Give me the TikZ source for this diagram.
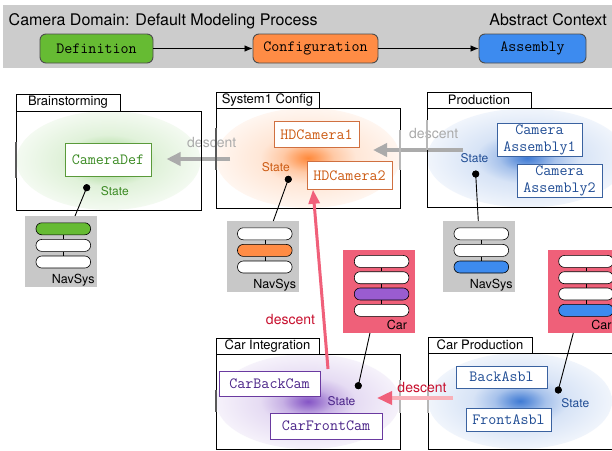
\documentclass[tikz,border=0pt]{standalone}
\usepackage{fontspec}
\setmainfont{TeX Gyre Heros}
\usetikzlibrary{arrows.meta,calc}

% palette
\definecolor{bandgray}{HTML}{CCCCCC}
\definecolor{defgreen}{HTML}{66BB33}
\definecolor{cfgorange}{HTML}{FF8C45}
\definecolor{asmblue}{HTML}{3D8BEF}
\definecolor{carred}{HTML}{EF6079}
\definecolor{carpurple}{HTML}{9A5CD0}
\definecolor{txtgreen}{HTML}{3A8A22}
\definecolor{txtorange}{HTML}{CC5A12}
\definecolor{txtblue}{HTML}{1F4C94}
\definecolor{txtpurple}{HTML}{4A2388}
\definecolor{bordgreen}{HTML}{5A9A3A}
\definecolor{bordorange}{HTML}{D07040}
\definecolor{bordblue}{HTML}{3A62A0}
\definecolor{bordpurple}{HTML}{6A3AA0}
\definecolor{arrowgray}{HTML}{ABABAB}
\definecolor{pinkline}{HTML}{F0607A}
\definecolor{pinklight}{HTML}{F8B0B8}
\definecolor{crimson}{HTML}{C8102E}
\definecolor{navgray}{HTML}{C8C8C8}
\definecolor{glowgreen}{HTML}{5CB83A}
\definecolor{gloworange}{HTML}{FF7F2A}
\definecolor{glowblue}{HTML}{2F6FD0}
\definecolor{glowpurple}{HTML}{7A45C0}

% soft elliptical haze behind the elements of a panel
\colorlet{glowc}{gray}
\pgfdeclareradialshading[glowc]{glow}{\pgfpoint{0bp}{0bp}}{%
  color(0bp)=(glowc!92!white);
  color(2.5bp)=(glowc!75!white);
  color(7bp)=(glowc!42!white);
  color(13bp)=(glowc!19!white);
  color(25bp)=(glowc!7!white);
  color(50bp)=(white)}

\newcommand{\panelglow}[6]{%
  \begin{scope}
    \colorlet{glowc}{#1}%
    \clip (#2.south west) rectangle (#2.north east);
    \shade[shading=glow] (#3,#4) ellipse [x radius=#5pt, y radius=#6pt];
  \end{scope}}

% column of pills inside a holder: name, left x, top y, pitch, first centre offset, fills
\newcommand{\pillstack}[6]{%
  \foreach \c [count=\i] in {#6} {
    \node[pill=\c] (#1-\i) at ({#2+38.3},{#3+#5+(\i-1)*#4}) {};
  }}

\tikzset{
  phasebox/.style={draw=black!70, line width=0.9pt, rounded corners=6pt,
    minimum height=29pt, inner sep=0pt, font=\ttfamily\fontsize{15.6}{18}\selectfont},
  flow/.style={line width=0.8pt, -{Latex[length=8pt,width=6.5pt]}},
  panelbg/.style={fill=white, anchor=north west, inner sep=0pt, outer sep=0pt},
  panelframe/.style={draw=black, line width=0.8pt},
  paneltab/.style={draw=black, fill=white, line width=0.8pt, anchor=north west,
    inner sep=0pt, outer sep=0pt, font=\fontsize{13}{15}\selectfont},
  edgemark/.style={line width=2pt, draw=black!65},
  edgefaint/.style={line width=1.6pt, draw=black!28},
  elembox/.style={draw=#1, fill=white, line width=1pt, inner sep=0pt,
    font=\ttfamily\fontsize{15.6}{17}\selectfont, align=center},
  statelbl/.style={font=\fontsize{12}{14}\selectfont, inner sep=0pt},
  statedot/.style={circle, fill=black, minimum size=7pt, inner sep=0pt},
  holder/.style={anchor=north west, minimum width=72pt, inner sep=0pt, outer sep=0pt},
  pill/.style={draw=black, line width=0.6pt, rounded corners=5.8pt,
    minimum width=54.6pt, minimum height=12pt, inner sep=0pt, fill=#1},
  pill/.default=white,
  rung/.style={line width=0.6pt, draw=black},
  holderlbl/.style={font=\fontsize{12.5}{14}\selectfont, anchor=base east, inner sep=0pt},
  wire/.style={line width=0.9pt, draw=black},
  descentgray/.style={line width=3.5pt, draw=arrowgray, -{Triangle[length=14pt,width=13pt]}},
  descentpink/.style={line width=3pt, draw=pinkline, -{Triangle[length=14pt,width=11pt]}},
  descentsoft/.style={line width=3.5pt, draw=pinklight, -{Triangle[length=15pt,width=13pt,color=pinkline]}},
  descentlbl/.style={font=\fontsize{14}{16}\selectfont, inner sep=0pt},
}

\begin{document}
\begin{tikzpicture}[x=1pt,y=-1pt]
\useasboundingbox (0,0) rectangle (612,450);
\fill[white] (0,0) rectangle (612,450);
\begin{scope}
\clip (0,0) rectangle (612,450);

% ---------- header: the default modeling process ----------
\fill[bandgray] (3,5) rectangle (615,68);
\node[anchor=base west, inner sep=0pt, font=\fontsize{16}{19}\selectfont] (title) at (8.5,25.5)
  {Camera Domain: Default Modeling Process};
\node[anchor=base east, inner sep=0pt, font=\fontsize{16}{19}\selectfont] (ctx) at (607,25.5)
  {Abstract Context};
\node[phasebox, fill=defgreen, minimum width=113pt] (def) at (96.5,48.5) {Definition};
\node[phasebox, fill=cfgorange, minimum width=125pt] (cfg) at (315.5,48.5) {Configuration};
\node[phasebox, fill=asmblue, minimum width=107pt] (asm) at (532.5,48.5) {Assembly};
\draw[flow] (def) -- (cfg);
\draw[flow] (cfg) -- (asm);

% ---------- panel backgrounds ----------
\node[panelbg, minimum width=185pt, minimum height=99pt] (brain) at (16,111) {};
\node[panelbg, minimum width=184pt, minimum height=100pt] (sys) at (216,108) {};
\node[panelbg, minimum width=200pt, minimum height=99pt] (prod) at (427,108) {};
\node[panelbg, minimum width=184pt, minimum height=95pt] (carint) at (216,354) {};
\node[panelbg, minimum width=200pt, minimum height=96pt] (carprod) at (428,353) {};

\panelglow{glowgreen}{brain}{108.5}{160.5}{92}{49.5}
\panelglow{gloworange}{sys}{308}{158}{92}{50}
\panelglow{glowblue}{prod}{527}{158}{100}{49.5}
\panelglow{glowpurple}{carint}{308}{401.5}{92}{47.5}
\panelglow{glowblue}{carprod}{520}{401}{92}{48}

% ---------- gray descent arrows (under the frames) ----------
\coordinate (g1s) at (230,159);
\coordinate (g1e) at (166.5,159);
\draw[descentgray] (g1s) -- (g1e);
\node[descentlbl, text=arrowgray] (g1lbl) at (211.7,142.7) {descent};
\coordinate (g2s) at (463,150);
\coordinate (g2e) at (373,150);
\draw[descentgray] (g2s) -- (g2e);
\node[descentlbl, text=arrowgray] (g2lbl) at (433.7,133.3) {descent};

% ---------- frames and tabs ----------
\foreach \p in {brain,sys,prod,carint,carprod}
  \draw[panelframe] (\p.north west) rectangle (\p.south east);
\node[paneltab, minimum width=104pt, minimum height=17pt] (brain-tab) at (16,94) {Brainstorming};
\node[paneltab, minimum width=103pt, minimum height=15.5pt] (sys-tab) at (216,92.5) {System1 Config};
\node[paneltab, minimum width=104pt, minimum height=16pt] (prod-tab) at (427,92) {Production};
\node[paneltab, minimum width=103pt, minimum height=16pt] (carint-tab) at (216,338) {Car Integration};
\node[paneltab, minimum width=104pt, minimum height=16pt] (carprod-tab) at (428,337) {Car Production};

% darker stretches on the panel sides
\draw[edgemark] (16,142) -- (16,178);
\draw[edgemark] (216,128) -- (216,170);
\draw[edgemark] (216,390) -- (216,412);
\draw[edgefaint] (400,130) -- (400,170);
\draw[edgefaint] (427,120) -- (427,150);
\draw[edgefaint] (400,380) -- (400,413);
\draw[edgefaint] (428,387) -- (428,413);

% ---------- panel contents ----------
% Brainstorming
\node[elembox=bordgreen, text=txtgreen, minimum width=86pt, minimum height=33pt] (camdef) at (108,159.5) {CameraDef};
\node[statelbl, text=txtgreen] (brain-state) at (114.8,190.7) {State};
\node[statedot] (brain-dot) at (86.7,187.7) {};
% System1 Config
\node[elembox=bordorange, text=txtorange, minimum width=85pt, minimum height=25.5pt] (hd1) at (316.5,134.5) {HDCamera1};
\node[elembox=bordorange, text=txtorange, minimum width=85pt, minimum height=27.5pt] (hd2) at (349.5,175.5) {HDCamera2};
\node[statelbl, text=txtorange] (sys-state) at (275.8,167.3) {State};
\node[statedot] (sys-dot) at (288.3,179.3) {};
% Production
\node[elembox=bordblue, text=txtblue, minimum width=85pt, minimum height=33.5pt] (ca1) at (539.5,140) {Camera\\Assembly1};
\node[elembox=bordblue, text=txtblue, minimum width=85pt, minimum height=33pt] (ca2) at (559.5,180.5) {Camera\\Assembly2};
\node[statelbl, text=txtblue] (prod-state) at (474.5,158.3) {State};
\node[statedot] (prod-dot) at (475.7,174) {};
% Car Integration
\node[elembox=bordpurple, text=txtpurple, minimum width=101pt, minimum height=25pt] (cbc) at (269.5,383.5) {CarBackCam};
\node[elembox=bordpurple, text=txtpurple, minimum width=112pt, minimum height=26pt] (cfc) at (326,426) {CarFrontCam};
\node[statelbl, text=txtpurple] (carint-state) at (341.5,401) {State};
\node[statedot] (carint-dot) at (358.3,385.7) {};
% Car Production
\node[elembox=bordblue, text=txtblue, minimum width=91pt, minimum height=22pt] (ba) at (501.5,377) {BackAsbl};
\node[elembox=bordblue, text=txtblue, minimum width=85pt, minimum height=23pt] (fa) at (508.5,419.5) {FrontAsbl};
\node[statelbl, text=txtblue] (carprod-state) at (575.3,402.7) {State};
\node[statedot] (carprod-dot) at (558.3,390) {};

% ---------- NavSys holders ----------
\node[holder, fill=navgray, minimum height=71pt] (nav1) at (25,216) {};
\pillstack{nav1}{25}{216}{16.6}{12.8}{defgreen,white,white}
\node[holder, fill=navgray, minimum height=71pt] (nav2) at (226.5,221) {};
\pillstack{nav2}{226.5}{221}{16.6}{12.8}{white,cfgorange,white}
\node[holder, fill=navgray, minimum height=71pt] (nav3) at (443,221) {};
\pillstack{nav3}{443}{221}{16.6}{12.8}{white,white,asmblue}
\foreach \n in {nav1,nav2,nav3} {
  \draw[rung] (\n-1) -- (\n-2);
  \draw[rung] (\n-2) -- (\n-3);
  \node[holderlbl] at ($(\n.south east)+(-2.3,-3.5)$) {NavSys};
}

% ---------- Car holders ----------
\node[holder, fill=carred, minimum height=83pt] (car1) at (343.3,250) {};
\pillstack{car1}{343.3}{250}{16.3}{11.4}{white,white,carpurple,white}
\node[holder, fill=carred, minimum height=83pt] (car2) at (547.7,250) {};
\pillstack{car2}{547.7}{250}{16.3}{11.4}{white,white,white,asmblue}
\foreach \n in {car1,car2} {
  \draw[rung] (\n-1) -- (\n-2);
  \draw[rung] (\n-2) -- (\n-3);
  \draw[rung] (\n-3) -- (\n-4);
  \node[holderlbl] at ($(\n.south east)+(-8,-4)$) {Car};
}

% ---------- state links ----------
\draw[wire] (brain-dot.center) -- ($(nav1.north west)+(50,0)$);
\draw[wire] (sys-dot.center) -- ($(nav2.north west)+(46.8,0)$);
\draw[wire] (prod-dot.center) -- ($(nav3.north west)+(35.3,0)$);
\draw[wire] (carint-dot.center) -- ($(car1.south west)+(26.7,0)$);
\draw[wire] (carprod-dot.center) -- ($(car2.south west)+(25.6,0)$);
\foreach \d in {brain-dot,sys-dot,prod-dot,carint-dot,carprod-dot}
  \fill (\d) circle[radius=3.5pt];

% ---------- pink descent arrows ----------
\coordinate (p1s) at (328,369);
\draw[descentpink] (p1s) -- (hd2.south west -| 313,0);
\node[descentlbl, text=crimson] (p1lbl) at (290.5,319.3) {descent};
\coordinate (p2s) at (453,398);
\coordinate (p2e) at (377,398);
\draw[descentsoft] (p2s) -- (p2e);
\node[descentlbl, text=crimson] (p2lbl) at (422,387.3) {descent};

\end{scope}
\end{tikzpicture}
\end{document}
